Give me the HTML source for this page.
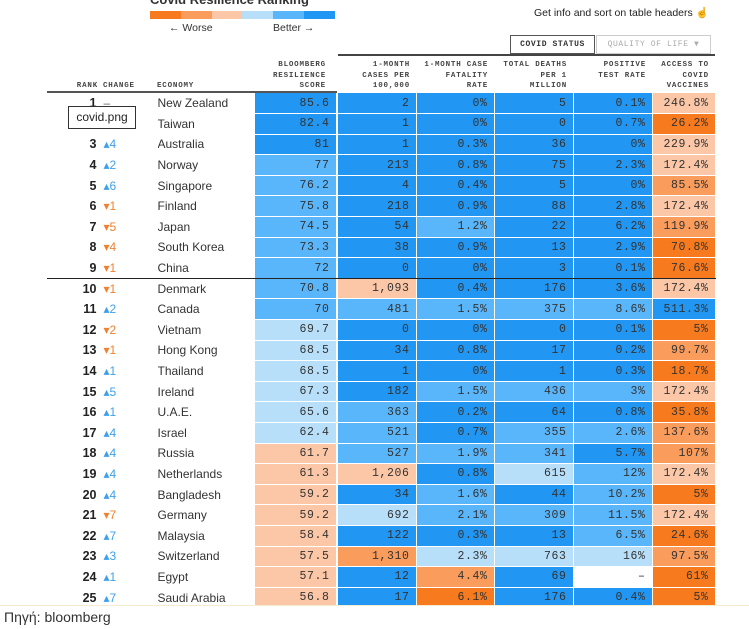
<!DOCTYPE html>
<html><head><meta charset="utf-8"><style>
*{margin:0;padding:0;box-sizing:border-box}
body{width:749px;height:629px;background:#fff;position:relative;overflow:hidden;font-family:"Liberation Sans",sans-serif;color:#222}
.abs{position:absolute}
.mono{font-family:"Liberation Mono",monospace}
.hd{font-family:"Liberation Mono",monospace;font-size:7.5px;font-weight:bold;letter-spacing:.8px;color:#444;line-height:10.5px;text-align:right}
table{position:absolute;left:47px;top:93px;border-collapse:collapse;table-layout:fixed}
td{height:20.6px;padding:0;border-bottom:1px solid #fff;border-right:1px solid #fff;white-space:nowrap;overflow:hidden}
td.r{text-align:right;font-weight:bold;font-size:12.5px;padding-right:3px;color:#222}
td.ch{font-size:12px;padding-left:3px}
td.e{font-size:12px;color:#333}
td.n{text-align:right;font-family:"Liberation Mono",monospace;font-size:11.5px;letter-spacing:.6px;padding-right:6px;color:#333}
td.g{background:#fff;border:none}
.up{color:#3da0ec}.dn{color:#f08030}
.D{background:#2196f3}.M{background:#5ab6fb}.L{background:#b8dff9}.P{background:#fcc7a6}.O2{background:#f99c5c}.O{background:#f77b1e}.W{background:#fff}
tr.sep td{border-bottom:1px solid #222}
</style></head><body>
<div class="abs" style="left:150px;top:-8px;font-weight:bold;font-size:13px;color:#333">Covid Resilience Ranking</div>
<div class="abs" style="left:150px;top:11px;width:185px;height:8px;display:flex">
<div style="flex:1;background:#f77b1e"></div><div style="flex:1;background:#f99c5c"></div><div style="flex:1;background:#fcc7a6"></div><div style="flex:1;background:#b8dff9"></div><div style="flex:1;background:#5ab6fb"></div><div style="flex:1;background:#2196f3"></div></div>
<div class="abs" style="left:169px;top:22px;font-size:10.5px;color:#333">← Worse</div>
<div class="abs" style="left:273px;top:22px;font-size:10.5px;color:#333">Better →</div>
<div class="abs" style="left:534px;top:6px;font-size:10.5px;color:#222">Get info and sort on table headers ☝</div>
<div class="abs mono" style="left:510px;top:35px;width:85px;height:19px;border:1px solid #555;font-size:8px;font-weight:bold;letter-spacing:.6px;text-align:center;line-height:17px;color:#333">COVID STATUS</div>
<div class="abs mono" style="left:596px;top:35px;width:115px;height:19px;border:1px solid #ccc;font-size:8px;letter-spacing:.6px;text-align:center;line-height:17px;color:#aaa">QUALITY OF LIFE ▼</div>
<div class="abs" style="left:338px;top:54px;width:377px;height:2px;background:#444"></div>
<div class="abs hd" style="left:60px;top:81px;width:38px">RANK</div>
<div class="abs hd" style="left:103px;top:81px;text-align:left">CHANGE</div>
<div class="abs hd" style="left:157px;top:81px;text-align:left">ECONOMY</div>
<div class="abs hd" style="left:254px;top:60px;width:72px">BLOOMBERG<br>RESILIENCE<br>SCORE</div>
<div class="abs hd" style="left:338px;top:60px;width:72px">1-MONTH<br>CASES PER<br>100,000</div>
<div class="abs hd" style="left:416px;top:60px;width:72px">1-MONTH CASE<br>FATALITY<br>RATE</div>
<div class="abs hd" style="left:494px;top:60px;width:73px">TOTAL DEATHS<br>PER 1<br>MILLION</div>
<div class="abs hd" style="left:573px;top:60px;width:73px">POSITIVE<br>TEST RATE</div>
<div class="abs hd" style="left:652px;top:60px;width:57px">ACCESS TO<br>COVID<br>VACCINES</div>
<table>
<colgroup><col style="width:53px"><col style="width:57px"><col style="width:97px"><col style="width:82px"><col style="width:2px"><col style="width:78px"><col style="width:78px"><col style="width:79px"><col style="width:79px"><col style="width:63px"></colgroup>
<tr><td class="r">1</td><td class="ch" style="color:#666">–</td><td class="e">New Zealand</td><td class="n D">85.6</td><td class="g"></td><td class="n D">2</td><td class="n D">0%</td><td class="n D">5</td><td class="n D">0.1%</td><td class="n P">246.8%</td></tr>
<tr><td class="r">2</td><td class="ch"></td><td class="e">Taiwan</td><td class="n D">82.4</td><td class="g"></td><td class="n D">1</td><td class="n D">0%</td><td class="n D">0</td><td class="n D">0.7%</td><td class="n O">26.2%</td></tr>
<tr><td class="r">3</td><td class="ch up">▴4</td><td class="e">Australia</td><td class="n D">81</td><td class="g"></td><td class="n D">1</td><td class="n D">0.3%</td><td class="n D">36</td><td class="n D">0%</td><td class="n P">229.9%</td></tr>
<tr><td class="r">4</td><td class="ch up">▴2</td><td class="e">Norway</td><td class="n M">77</td><td class="g"></td><td class="n D">213</td><td class="n D">0.8%</td><td class="n D">75</td><td class="n D">2.3%</td><td class="n P">172.4%</td></tr>
<tr><td class="r">5</td><td class="ch up">▴6</td><td class="e">Singapore</td><td class="n M">76.2</td><td class="g"></td><td class="n D">4</td><td class="n D">0.4%</td><td class="n D">5</td><td class="n D">0%</td><td class="n O2">85.5%</td></tr>
<tr><td class="r">6</td><td class="ch dn">▾1</td><td class="e">Finland</td><td class="n M">75.8</td><td class="g"></td><td class="n D">218</td><td class="n D">0.9%</td><td class="n D">88</td><td class="n D">2.8%</td><td class="n P">172.4%</td></tr>
<tr><td class="r">7</td><td class="ch dn">▾5</td><td class="e">Japan</td><td class="n M">74.5</td><td class="g"></td><td class="n D">54</td><td class="n M">1.2%</td><td class="n D">22</td><td class="n D">6.2%</td><td class="n O2">119.9%</td></tr>
<tr><td class="r">8</td><td class="ch dn">▾4</td><td class="e">South Korea</td><td class="n M">73.3</td><td class="g"></td><td class="n D">38</td><td class="n D">0.9%</td><td class="n D">13</td><td class="n D">2.9%</td><td class="n O">70.8%</td></tr>
<tr class="sep"><td class="r">9</td><td class="ch dn">▾1</td><td class="e">China</td><td class="n M">72</td><td class="g"></td><td class="n D">0</td><td class="n D">0%</td><td class="n D">3</td><td class="n D">0.1%</td><td class="n O">76.6%</td></tr>
<tr><td class="r">10</td><td class="ch dn">▾1</td><td class="e">Denmark</td><td class="n M">70.8</td><td class="g"></td><td class="n P">1,093</td><td class="n D">0.4%</td><td class="n D">176</td><td class="n D">3.6%</td><td class="n P">172.4%</td></tr>
<tr><td class="r">11</td><td class="ch up">▴2</td><td class="e">Canada</td><td class="n M">70</td><td class="g"></td><td class="n M">481</td><td class="n M">1.5%</td><td class="n M">375</td><td class="n M">8.6%</td><td class="n D">511.3%</td></tr>
<tr><td class="r">12</td><td class="ch dn">▾2</td><td class="e">Vietnam</td><td class="n L">69.7</td><td class="g"></td><td class="n D">0</td><td class="n D">0%</td><td class="n D">0</td><td class="n D">0.1%</td><td class="n O">5%</td></tr>
<tr><td class="r">13</td><td class="ch dn">▾1</td><td class="e">Hong Kong</td><td class="n L">68.5</td><td class="g"></td><td class="n D">34</td><td class="n D">0.8%</td><td class="n D">17</td><td class="n D">0.2%</td><td class="n O2">99.7%</td></tr>
<tr><td class="r">14</td><td class="ch up">▴1</td><td class="e">Thailand</td><td class="n L">68.5</td><td class="g"></td><td class="n D">1</td><td class="n D">0%</td><td class="n D">1</td><td class="n D">0.3%</td><td class="n O">18.7%</td></tr>
<tr><td class="r">15</td><td class="ch up">▴5</td><td class="e">Ireland</td><td class="n L">67.3</td><td class="g"></td><td class="n D">182</td><td class="n M">1.5%</td><td class="n M">436</td><td class="n M">3%</td><td class="n P">172.4%</td></tr>
<tr><td class="r">16</td><td class="ch up">▴1</td><td class="e">U.A.E.</td><td class="n L">65.6</td><td class="g"></td><td class="n M">363</td><td class="n D">0.2%</td><td class="n D">64</td><td class="n D">0.8%</td><td class="n O">35.8%</td></tr>
<tr><td class="r">17</td><td class="ch up">▴4</td><td class="e">Israel</td><td class="n L">62.4</td><td class="g"></td><td class="n M">521</td><td class="n D">0.7%</td><td class="n M">355</td><td class="n M">2.6%</td><td class="n O2">137.6%</td></tr>
<tr><td class="r">18</td><td class="ch up">▴4</td><td class="e">Russia</td><td class="n P">61.7</td><td class="g"></td><td class="n M">527</td><td class="n M">1.9%</td><td class="n M">341</td><td class="n D">5.7%</td><td class="n O2">107%</td></tr>
<tr><td class="r">19</td><td class="ch up">▴4</td><td class="e">Netherlands</td><td class="n P">61.3</td><td class="g"></td><td class="n P">1,206</td><td class="n D">0.8%</td><td class="n L">615</td><td class="n M">12%</td><td class="n P">172.4%</td></tr>
<tr><td class="r">20</td><td class="ch up">▴4</td><td class="e">Bangladesh</td><td class="n P">59.2</td><td class="g"></td><td class="n D">34</td><td class="n M">1.6%</td><td class="n D">44</td><td class="n M">10.2%</td><td class="n O">5%</td></tr>
<tr><td class="r">21</td><td class="ch dn">▾7</td><td class="e">Germany</td><td class="n P">59.2</td><td class="g"></td><td class="n L">692</td><td class="n M">2.1%</td><td class="n M">309</td><td class="n M">11.5%</td><td class="n P">172.4%</td></tr>
<tr><td class="r">22</td><td class="ch up">▴7</td><td class="e">Malaysia</td><td class="n P">58.4</td><td class="g"></td><td class="n D">122</td><td class="n D">0.3%</td><td class="n D">13</td><td class="n M">6.5%</td><td class="n O">24.6%</td></tr>
<tr><td class="r">23</td><td class="ch up">▴3</td><td class="e">Switzerland</td><td class="n P">57.5</td><td class="g"></td><td class="n O2">1,310</td><td class="n L">2.3%</td><td class="n L">763</td><td class="n L">16%</td><td class="n O2">97.5%</td></tr>
<tr><td class="r">24</td><td class="ch up">▴1</td><td class="e">Egypt</td><td class="n P">57.1</td><td class="g"></td><td class="n D">12</td><td class="n O2">4.4%</td><td class="n D">69</td><td class="n W">–</td><td class="n O">61%</td></tr>
<tr><td class="r">25</td><td class="ch up">▴7</td><td class="e">Saudi Arabia</td><td class="n P">56.8</td><td class="g"></td><td class="n D">17</td><td class="n O">6.1%</td><td class="n D">176</td><td class="n D">0.4%</td><td class="n O">5%</td></tr>
</table>
<div class="abs" style="left:47px;top:91px;width:290px;height:2px;background:#555"></div>
<div class="abs" style="left:0;top:605px;width:749px;height:24px;background:#fff;border-top:1px solid #f3ecd0"></div>
<div class="abs" style="left:68px;top:106px;width:68px;height:23px;border:1px solid #333;background:#fff;font-size:12px;text-align:center;line-height:21px;color:#222">covid.png</div>
<div class="abs" style="left:4px;top:609px;font-size:14px;color:#333">Πηγή: bloomberg</div>
</body></html>
